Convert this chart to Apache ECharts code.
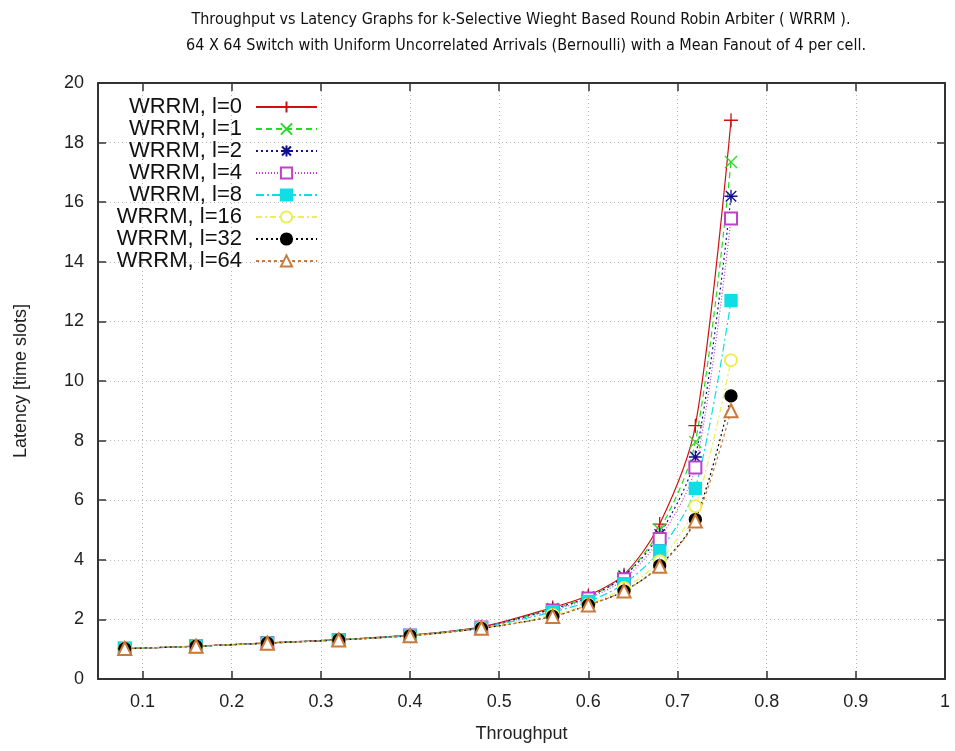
<!DOCTYPE html>
<html>
<head>
<meta charset="utf-8">
<script src="https://cdn.jsdelivr.net/npm/echarts@6/dist/echarts.min.js"></script>
<style>
  html, body { margin: 0; padding: 0; background: #fff; }
  #chart { width: 955px; height: 751px; }
</style>
</head>
<body>
<div id="chart"></div>
<script>
// throughput points where latency was measured
const throughput = [0.08, 0.16, 0.24, 0.32, 0.40, 0.48, 0.56, 0.60, 0.64, 0.68, 0.72, 0.76];

// latency per arbiter setting
const latL0  = [1.02, 1.10, 1.21, 1.32, 1.47, 1.75, 2.40, 2.80, 3.50, 5.20, 8.50, 18.75];
const latL1  = [1.02, 1.10, 1.21, 1.32, 1.47, 1.74, 2.35, 2.75, 3.45, 5.00, 7.95, 17.35];
const latL2  = [1.02, 1.10, 1.21, 1.32, 1.47, 1.74, 2.35, 2.75, 3.45, 4.85, 7.45, 16.20];
const latL4  = [1.02, 1.10, 1.21, 1.31, 1.46, 1.73, 2.30, 2.70, 3.35, 4.70, 7.10, 15.45];
const latL8  = [1.02, 1.10, 1.20, 1.31, 1.46, 1.72, 2.25, 2.60, 3.20, 4.30, 6.40, 12.70];
const latL16 = [1.02, 1.10, 1.20, 1.31, 1.45, 1.71, 2.15, 2.50, 3.05, 3.95, 5.80, 10.70];
const latL32 = [1.02, 1.10, 1.20, 1.31, 1.45, 1.70, 2.10, 2.48, 2.95, 3.80, 5.35, 9.50];
const latL64 = [1.02, 1.10, 1.20, 1.31, 1.45, 1.70, 2.10, 2.48, 2.95, 3.78, 5.30, 9.00];

const seriesNames = ['WRRM, l=0', 'WRRM, l=1', 'WRRM, l=2', 'WRRM, l=4',
                     'WRRM, l=8', 'WRRM, l=16', 'WRRM, l=32', 'WRRM, l=64'];
const seriesValues = [latL0, latL1, latL2, latL4, latL8, latL16, latL32, latL64];

const titleLine1 = 'Throughput vs Latency Graphs for k-Selective Wieght Based Round Robin Arbiter ( WRRM ).';
const titleLine2 = '64 X 64 Switch with Uniform Uncorrelated Arrivals (Bernoulli) with a Mean Fanout of 4 per cell.';

// gnuplot-like point types and line types
const styles = [
  { color: '#d01010', dash: 'solid',        symbol: 'path://M0,5L10,5M5,0L5,10', size: 14 },
  { color: '#22dd22', dash: [6, 4],         symbol: 'path://M0,0L10,10M10,0L0,10', size: 12 },
  { color: '#101090', dash: [2, 3],         symbol: 'path://M0,5L10,5M5,0L5,10M1,1L9,9M9,1L1,9', size: 13 },
  { color: '#c040cc', dash: [1, 2],         symbol: 'emptyRect', size: 12 },
  { color: '#10dde5', dash: [8, 3, 2, 3],   symbol: 'rect', size: 12 },
  { color: '#eeee50', dash: [6, 3, 2, 3],   symbol: 'emptyCircle', size: 12 },
  { color: '#000000', dash: [2, 3],         symbol: 'circle', size: 12 },
  { color: '#cc7a3a', dash: [3, 3],         symbol: 'emptyTriangle', size: 13 },
];

const chart = echarts.init(document.getElementById('chart'));

const series = seriesNames.map((name, i) => ({
  name: name,
  type: 'line',
  xAxisIndex: 0,
  yAxisIndex: 0,
  smooth: 0.3,
  symbol: styles[i].symbol,
  symbolSize: styles[i].size,
  showAllSymbol: true,
  lineStyle: { color: styles[i].color, width: 1.2, type: styles[i].dash },
  itemStyle: { color: styles[i].color, borderColor: styles[i].color, borderWidth: 1.3 },
  emphasis: { disabled: true },
  data: throughput.map((t, k) => [t, seriesValues[i][k]]),
}));

const axisFont = { fontFamily: 'Liberation Sans', fontSize: 18, color: '#222' };
const titleFont = { fontFamily: 'DejaVu Sans Condensed', fontSize: 16, fontWeight: 'normal', color: '#111' };

const option = {
  backgroundColor: '#fff',
  animation: false,
  title: [
    { text: titleLine1, left: 516, top: 7, textAlign: 'center', textStyle: titleFont },
    { text: titleLine2, left: 521, top: 33, textAlign: 'center', textStyle: titleFont },
  ],
  legend: {
    orient: 'vertical',
    left: 103,
    top: 91,
    align: 'right',
    itemWidth: 61,
    itemHeight: 14,
    itemGap: 0,
    data: seriesNames,
    textStyle: { fontFamily: 'Liberation Sans', fontSize: 22, color: '#111',
                 width: 134, align: 'right', lineHeight: 21.7, padding: [0, 9, 0, 0] },
  },
  grid: { left: 98, right: 10, top: 83, bottom: 72, containLabel: false },
  xAxis: [
    {
      type: 'value', position: 'bottom', min: 0.05, max: 1, splitNumber: 10,
      name: 'Throughput', nameLocation: 'middle', nameGap: 46,
      nameTextStyle: axisFont,
      axisLine: { onZero: false, lineStyle: { color: '#333', width: 2 } },
      axisTick: { inside: true, length: 8, lineStyle: { color: '#333', width: 1.5 } },
      axisLabel: { showMinLabel: false, margin: 14, ...axisFont },
      splitLine: { show: true, lineStyle: { color: '#b8b8b8', type: [1, 3], width: 1 } },
    },
    {
      type: 'value', position: 'top', min: 0.05, max: 1, splitNumber: 10,
      axisLine: { onZero: false, lineStyle: { color: '#333', width: 2 } },
      axisTick: { inside: true, length: 8, lineStyle: { color: '#333', width: 1.5 } },
      axisLabel: { show: false },
      splitLine: { show: false },
    },
  ],
  yAxis: [
    {
      type: 'value', position: 'left', min: 0, max: 20, interval: 2,
      name: 'Latency [time slots]', nameLocation: 'middle', nameGap: 68,
      nameTextStyle: axisFont,
      axisLine: { show: true, onZero: false, lineStyle: { color: '#333', width: 2 } },
      axisTick: { show: true, inside: true, length: 8, lineStyle: { color: '#333', width: 1.5 } },
      axisLabel: { margin: 14, ...axisFont },
      splitLine: { show: true, lineStyle: { color: '#b8b8b8', type: [1, 3], width: 1 } },
    },
    {
      type: 'value', position: 'right', min: 0, max: 20, interval: 2,
      axisLine: { show: true, onZero: false, lineStyle: { color: '#333', width: 2 } },
      axisTick: { show: true, inside: true, length: 8, lineStyle: { color: '#333', width: 1.5 } },
      axisLabel: { show: false },
      splitLine: { show: false },
    },
  ],
  series: series,
};

chart.setOption(option);
</script>
</body>
</html>
